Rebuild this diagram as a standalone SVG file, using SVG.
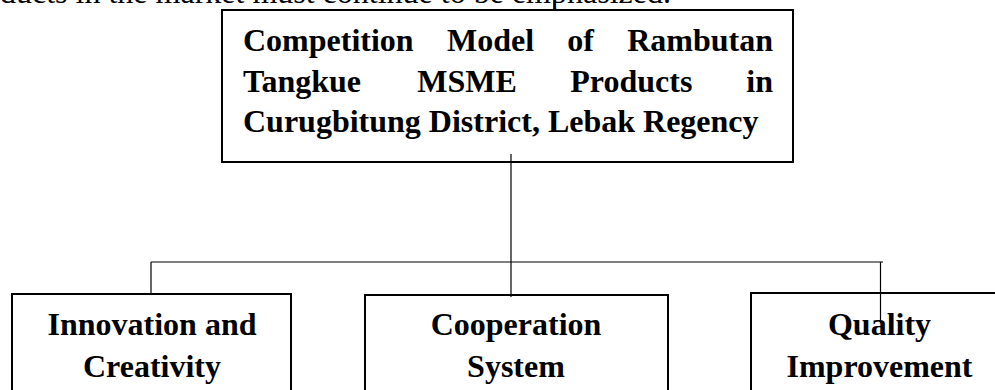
<svg xmlns="http://www.w3.org/2000/svg" width="995" height="390" viewBox="0 0 995 390">
<style>
.box{fill:#fff;stroke:#000;stroke-width:2}
.t{font-family:"Liberation Serif","Times New Roman",serif;font-size:32px;font-weight:bold;fill:#000}
.c{text-anchor:middle}
.body{font-family:"Liberation Serif","Times New Roman",serif;font-size:32px;fill:#000}
.ln{fill:none;stroke:#000;stroke-width:1.2}
</style>
<rect width="995" height="390" fill="#fff"/>
<text class="body" x="0" y="2.5">ducts in the market must continue to be emphasized.</text>
<g id="connectors">
<line class="ln" x1="554" y1="0" x2="554" y2="10"/>
<line class="ln" x1="511" y1="154" x2="511" y2="297"/>
<line class="ln" x1="151" y1="262" x2="883" y2="262"/>
<line class="ln" x1="151" y1="262" x2="151" y2="294"/>
<line class="ln" x1="880.5" y1="262" x2="880.5" y2="323"/>
</g>
<g id="top">
<rect class="box" x="222" y="10" width="571" height="152" fill="none" style="fill:none"/>
<text class="t" y="51"><tspan x="243">Competition</tspan><tspan x="447">Model</tspan><tspan x="567.3">of</tspan><tspan x="627.2">Rambutan</tspan></text>
<text class="t" y="91.5"><tspan x="243">Tangkue</tspan><tspan x="417.3">MSME</tspan><tspan x="570.3">Products</tspan><tspan x="746.3">in</tspan></text>
<text class="t" x="243" y="132">Curugbitung District, Lebak Regency</text>
</g>
<g id="innovation">
<rect class="box" x="12" y="294" width="279" height="110" style="fill:none"/>
<text class="t c" x="152" y="335">Innovation and</text>
<text class="t c" x="152" y="377">Creativity</text>
</g>
<g id="cooperation">
<rect class="box" x="365" y="295" width="303" height="110" style="fill:none"/>
<text class="t c" x="516" y="335">Cooperation</text>
<text class="t c" x="516" y="377">System</text>
</g>
<g id="quality">
<rect class="box" x="751" y="293" width="260" height="110" style="fill:none"/>
<text class="t c" x="879.5" y="335">Quality</text>
<text class="t c" x="879.5" y="377">Improvement</text>
</g>
</svg>
